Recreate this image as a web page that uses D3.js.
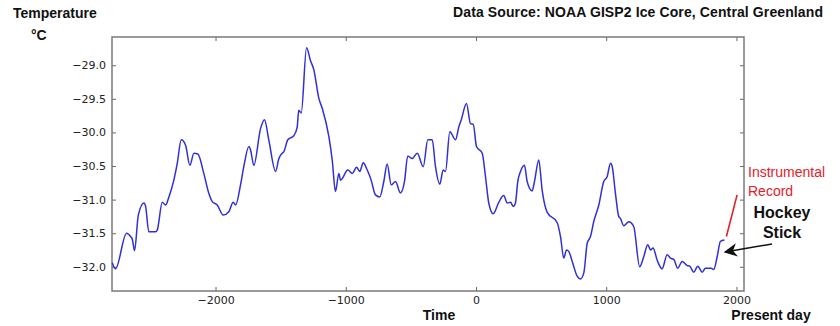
<!DOCTYPE html>
<html>
<head>
<meta charset="utf-8">
<script src="https://d3js.org/d3.v7.min.js"></script>
<style>
    body { margin: 0; background: #fff; }
    svg { display: block; }
    .lbl { font-family: "Liberation Sans", Arial, sans-serif; font-weight: bold; fill: #111; }
    .tick text { font-family: "DejaVu Sans", sans-serif; font-size: 11px; fill: #222; }
</style>
</head>
<body>
<svg width="840" height="326"></svg>
<script>
    // GISP2 temperature (year, deg C)
    const years = [-2793, -2768, -2683, -2652, -2639, -2622, -2593, -2550, -2537, -2512,
        -2460, -2447, -2409, -2384, -2358, -2320, -2294, -2263, -2230, -2197,
        -2166, -2136, -2090, -2051, -2025, -1987, -1941, -1898, -1864, -1846,
        -1808, -1783, -1744, -1731, -1706, -1654, -1624, -1591, -1539, -1514,
        -1488, -1476, -1445, -1399, -1373, -1361, -1342, -1301, -1271, -1245,
        -1207, -1181, -1130, -1104, -1079, -1053, -1040, -984, -950, -917,
        -892, -866, -835, -805, -772, -739, -708, -682, -651, -618,
        -580, -549, -524, -490, -451, -405, -370, -336, -311, -278,
        -252, -234, -201, -157, -132, -114, -73, -42, -21, 4,
        48, 73, 98, 132, 175, 213, 240, 265, 286, 303,
        321, 342, 372, 393, 431, 449, 482, 508, 547, 623,
        649, 674, 695, 712, 739, 777, 802, 828, 854, 879,
        904, 943, 981, 1007, 1033, 1046, 1071, 1096, 1109, 1135,
        1173, 1211, 1257, 1288, 1319, 1340, 1360, 1391, 1429, 1468,
        1493, 1519, 1549, 1583, 1621, 1641, 1672, 1703, 1737, 1762,
        1806, 1826, 1852, 1877, 1908];
    const temps = [-31.94, -32.03, -31.50, -31.55, -31.59, -31.76, -31.23, -31.05, -31.10, -31.48,
        -31.48, -31.45, -31.04, -31.08, -30.96, -30.71, -30.46, -30.11, -30.19, -30.49,
        -30.31, -30.32, -30.61, -30.91, -31.03, -31.08, -31.23, -31.18, -31.04, -31.08,
        -30.78, -30.51, -30.21, -30.26, -30.49, -29.94, -29.81, -30.11, -30.58, -30.39,
        -30.31, -30.29, -30.11, -30.05, -29.92, -29.67, -29.71, -28.74, -28.93, -29.07,
        -29.49, -29.64, -30.06, -30.41, -30.88, -30.61, -30.71, -30.56, -30.61, -30.52,
        -30.58, -30.45, -30.56, -30.71, -30.93, -30.96, -30.73, -30.47, -30.78, -30.73,
        -30.90, -30.73, -30.35, -30.39, -30.31, -30.51, -30.11, -30.11, -30.51, -30.77,
        -30.56, -30.58, -29.99, -30.11, -29.92, -29.82, -29.57, -29.87, -29.88, -30.21,
        -30.31, -30.66, -31.05, -31.21, -31.04, -30.94, -31.05, -31.04, -31.10, -31.05,
        -30.73, -30.58, -30.49, -30.73, -30.87, -30.73, -30.41, -30.86, -31.19, -31.34,
        -31.55, -31.87, -31.75, -31.77, -31.92, -32.14, -32.18, -32.09, -31.65, -31.55,
        -31.33, -31.08, -30.73, -30.66, -30.46, -30.51, -30.91, -31.25, -31.28, -31.39,
        -31.33, -31.40, -32.00, -31.85, -31.67, -31.75, -31.72, -31.90, -32.03, -31.82,
        -31.87, -31.89, -32.02, -31.92, -31.98, -31.99, -32.08, -31.99, -32.08, -32.02,
        -32.02, -32.04, -31.85, -31.62, -31.60];

    // red "instrumental record" segment
    const instYears = [1923, 2005];
    const instTemps = [-31.55, -30.93];

    const xTicks = [-2000, -1000, 0, 1000, 2000];
    const yTicks = [-32.0, -31.5, -31.0, -30.5, -30.0, -29.5, -29.0];

    const svg = d3.select("svg");
    const margin = { top: 37, right: 96, bottom: 35, left: 112 };
    const width = +svg.attr("width") - margin.left - margin.right;
    const height = +svg.attr("height") - margin.top - margin.bottom;
    const g = svg.append("g").attr("transform", `translate(${margin.left},${margin.top})`);

    const x = d3.scaleLinear().domain([-2795, 2058]).range([0, width]);
    const y = d3.scaleLinear().domain([-32.36, -28.58]).range([height, 0]);

    const minus = s => s.replace("-", "\u2212");

    // axes with ticks pointing into the box (old matplotlib look)
    g.append("g")
        .attr("transform", `translate(0,${height})`)
        .call(d3.axisBottom(x).tickValues(xTicks).tickSizeInner(-4).tickSizeOuter(0).tickPadding(5)
            .tickFormat(d => minus(d3.format("d")(d))));
    g.append("g")
        .call(d3.axisLeft(y).tickValues(yTicks).tickSizeInner(-4).tickSizeOuter(0).tickPadding(6)
            .tickFormat(d => minus(d3.format(".1f")(d))));
    g.append("g")
        .call(d3.axisTop(x).tickValues(xTicks).tickSizeInner(-4).tickSizeOuter(0).tickFormat(""));
    g.append("g")
        .attr("transform", `translate(${width},0)`)
        .call(d3.axisRight(y).tickValues(yTicks).tickSizeInner(-4).tickSizeOuter(0).tickFormat(""));

    g.selectAll(".domain").remove();
    g.selectAll(".tick line").attr("stroke", "#666");

    // frame
    g.append("rect")
        .attr("width", width)
        .attr("height", height)
        .attr("fill", "none")
        .attr("stroke", "#7a7a7a")
        .attr("stroke-width", 1.5);

    const line = d3.line().x(d => x(d[0])).y(d => y(d[1]));

    g.append("path")
        .datum(years.map((yr, i) => [yr, temps[i]]))
        .attr("d", line.curve(d3.curveMonotoneX))
        .attr("fill", "none")
        .attr("stroke", "#3030d6")
        .attr("stroke-width", 1.5)
        .attr("stroke-linejoin", "round");

    g.append("path")
        .datum(instYears.map((yr, i) => [yr, instTemps[i]]))
        .attr("d", line.curve(d3.curveLinear))
        .attr("fill", "none")
        .attr("stroke", "#e3202a")
        .attr("stroke-width", 1.6);

    // titles and labels
    svg.append("text").attr("class", "lbl").attr("x", 13).attr("y", 18)
        .style("font-size", "14px").text("Temperature");
    svg.append("text").attr("class", "lbl").attr("x", 31).attr("y", 40)
        .style("font-size", "14px").text("\u00b0C");
    svg.append("text").attr("class", "lbl").attr("x", 453).attr("y", 17)
        .style("font-size", "14px").attr("textLength", 370).text("Data Source: NOAA GISP2 Ice Core, Central Greenland");
    svg.append("text").attr("class", "lbl").attr("x", 439).attr("y", 320)
        .attr("text-anchor", "middle").style("font-size", "14px").text("Time");
    svg.append("text").attr("class", "lbl").attr("x", 771).attr("y", 320)
        .attr("text-anchor", "middle").style("font-size", "14px").text("Present day");

    // annotations on the right
    svg.append("text").attr("x", 748).attr("y", 177)
        .style("font-family", "Liberation Sans, Arial, sans-serif").style("font-size", "14px")
        .attr("fill", "#e3202a").text("Instrumental");
    svg.append("text").attr("x", 748).attr("y", 196)
        .style("font-family", "Liberation Sans, Arial, sans-serif").style("font-size", "14px")
        .attr("fill", "#e3202a").text("Record");
    svg.append("text").attr("class", "lbl").attr("x", 782).attr("y", 218)
        .attr("text-anchor", "middle").style("font-size", "16px").text("Hockey");
    svg.append("text").attr("class", "lbl").attr("x", 782).attr("y", 238)
        .attr("text-anchor", "middle").style("font-size", "16px").text("Stick");

    svg.append("defs").append("marker")
        .attr("id", "head")
        .attr("viewBox", "0 0 10 10")
        .attr("refX", 9).attr("refY", 5)
        .attr("markerWidth", 9).attr("markerHeight", 9)
        .attr("orient", "auto")
        .append("path").attr("d", "M0,0L10,5L0,10L3,5Z").attr("fill", "#111");

    svg.append("line")
        .attr("x1", 772).attr("y1", 244)
        .attr("x2", 725).attr("y2", 252)
        .attr("stroke", "#111").attr("stroke-width", 1.5)
        .attr("marker-end", "url(#head)");
</script>
</body>
</html>
